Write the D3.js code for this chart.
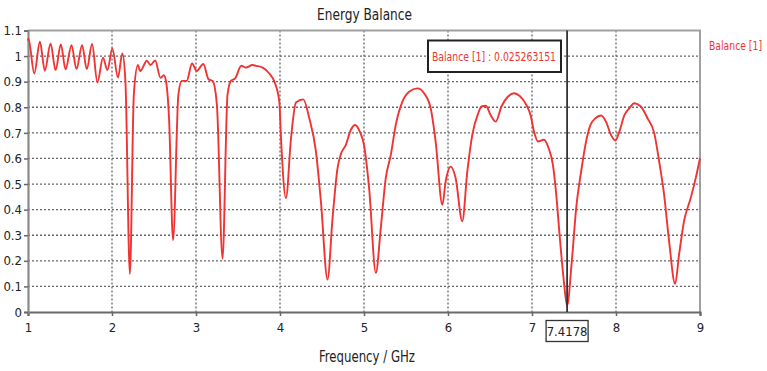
<!DOCTYPE html>
<html>
<head>
<meta charset="utf-8">
<script src="https://cdn.jsdelivr.net/npm/d3@7"></script>
<style>
  body { margin: 0; background: #fff; }
  text { font-family: "DejaVu Sans Condensed", "DejaVu Sans", sans-serif; }
</style>
</head>
<body>
<svg id="chart" width="767" height="371"></svg>
<script>
// frequency (GHz) and energy balance
var freq = [1.0, 1.004, 1.075, 1.142, 1.2, 1.269, 1.328, 1.391, 1.447, 1.518, 1.577, 1.644, 1.70, 1.763, 1.826, 1.893, 1.945, 2.004, 2.071, 2.123,
  2.16, 2.213, 2.26, 2.308, 2.336, 2.415, 2.458, 2.514, 2.577, 2.617, 2.644, 2.68, 2.727, 2.79, 2.83, 2.889, 2.953, 3.008, 3.087, 3.15, 3.198, 3.249, 3.316, 3.375, 3.415, 3.466, 3.54, 3.593, 3.672,
  3.715, 3.794, 3.873, 3.933, 3.992, 4.012, 4.071, 4.131, 4.19, 4.277, 4.349, 4.428, 4.487, 4.566, 4.626, 4.685, 4.725, 4.784, 4.844, 4.895, 4.95, 5.0, 5.061, 5.141,
  5.2, 5.259, 5.319, 5.378, 5.457, 5.537, 5.636, 5.715, 5.794, 5.853, 5.933, 5.972, 6.032, 6.091, 6.17, 6.23, 6.289, 6.36, 6.4, 6.45, 6.51, 6.569, 6.636, 6.715, 6.787, 6.854, 6.933, 6.984, 7.024, 7.071,
  7.142, 7.198, 7.249, 7.289, 7.328, 7.379, 7.4178, 7.474, 7.526, 7.585, 7.644, 7.696, 7.755, 7.822, 7.881, 7.94, 7.992, 8.04, 8.099, 8.158, 8.217, 8.296, 8.375, 8.455, 8.514, 8.573, 8.632, 8.704,
  8.751, 8.81, 8.889, 8.949, 9.0];
var balance = [1.06, 1.069, 0.932, 1.056, 0.943, 1.049, 0.945, 1.045, 0.948, 1.043, 0.949, 1.043, 0.949, 1.047, 0.897, 0.994, 0.945, 1.03, 0.916, 1.01,
  0.9, 0.149, 0.85, 0.965, 0.941, 0.982, 0.965, 0.983, 0.915, 0.925, 0.9, 0.75, 0.281, 0.848, 0.903, 0.903, 0.971, 0.942, 0.969, 0.909, 0.903, 0.809, 0.208, 0.848, 0.903, 0.913, 0.962, 0.955, 0.965,
  0.962, 0.955, 0.932, 0.9, 0.822, 0.679, 0.445, 0.679, 0.819, 0.831, 0.757, 0.627, 0.432, 0.127, 0.368, 0.562, 0.617, 0.653, 0.712, 0.731, 0.705, 0.653, 0.484, 0.153,
  0.329, 0.523, 0.614, 0.731, 0.822, 0.861, 0.874, 0.855, 0.796, 0.666, 0.419, 0.51, 0.568, 0.523, 0.355, 0.549, 0.692, 0.777, 0.803, 0.806, 0.768, 0.744, 0.803, 0.842, 0.855, 0.844, 0.809, 0.768, 0.705, 0.666,
  0.673, 0.64, 0.575, 0.458, 0.303, 0.121, 0.025, 0.199, 0.406, 0.549, 0.666, 0.731, 0.757, 0.768, 0.744, 0.692, 0.67, 0.705, 0.768, 0.796, 0.816, 0.803, 0.757, 0.699, 0.588, 0.458, 0.277, 0.11,
  0.225, 0.355, 0.445, 0.523, 0.601];

var xTicks = [1, 2, 3, 4, 5, 6, 7, 8, 9];
var yTicks = [0, 0.1, 0.2, 0.3, 0.4, 0.5, 0.6, 0.7, 0.8, 0.9, 1, 1.1];
var markerFreq = 7.4178;
var markerLabel = "Balance [1] : 0.025263151";
var seriesName = "Balance [1]";

function drawChart() {
    var svg = d3.select("svg"),
        pLeft = 28, pRight = 700, pTop = 30.5, pBottom = 312;

    var x = d3.scaleLinear().domain([1, 9]).range([pLeft, pRight]);
    var y = d3.scaleLinear().domain([0, 1.1]).range([pBottom, pTop]);

    // grid
    var grid = svg.append("g").attr("stroke", "#666").attr("stroke-width", 1.3).attr("stroke-dasharray", "2,2");
    grid.selectAll(".gx")
        .data(xTicks.slice(1, -1))
        .enter().append("line")
        .attr("x1", d => x(d)).attr("x2", d => x(d))
        .attr("y1", pTop).attr("y2", pBottom);
    grid.selectAll(".gy")
        .data(yTicks.slice(1, -1))
        .enter().append("line")
        .attr("x1", pLeft).attr("x2", pRight)
        .attr("y1", d => y(d)).attr("y2", d => y(d));

    // frame: top and right
    svg.append("path")
        .attr("d", "M" + pLeft + "," + pTop + "H" + pRight + "V" + pBottom)
        .attr("fill", "none").attr("stroke", "#a0a0a0").attr("stroke-width", 2);

    // axes
    var xAxis = svg.append("g")
        .attr("transform", "translate(0," + pBottom + ")")
        .call(d3.axisBottom(x).tickValues(xTicks).tickSize(4).tickPadding(7).tickFormat(d3.format("d")));
    var yAxis = svg.append("g")
        .attr("transform", "translate(" + pLeft + ",0)")
        .call(d3.axisLeft(y).tickValues(yTicks).tickSize(4).tickPadding(2).tickFormat(d => d));

    xAxis.select(".domain").attr("stroke", "#6a6a6a").attr("stroke-width", 2.2);
    yAxis.select(".domain").attr("stroke", "#8a8a8a").attr("stroke-width", 2.2);
    xAxis.selectAll(".tick line").attr("stroke", "#666").attr("stroke-width", 1.5);
    yAxis.selectAll(".tick line").attr("stroke", "#666").attr("stroke-width", 1.5);
    svg.selectAll(".tick text").attr("font-size", 13).attr("fill", "#222")
        .style("font-family", "\"DejaVu Sans Condensed\", sans-serif");

    // curve
    var pts = freq.map((f, i) => [f, balance[i]]);
    var line = d3.line()
        .x(d => x(d[0]))
        .y(d => y(d[1]))
        .curve(d3.curveMonotoneX);
    svg.append("path")
        .datum(pts)
        .attr("d", line)
        .attr("fill", "none")
        .attr("stroke", "#f03333")
        .attr("stroke-width", 1.9);

    // marker line
    svg.append("line")
        .attr("x1", x(markerFreq)).attr("x2", x(markerFreq))
        .attr("y1", pTop).attr("y2", pBottom)
        .attr("stroke", "#333").attr("stroke-width", 1.8);

    // marker value box
    svg.append("rect")
        .attr("x", 428).attr("y", 40.5).attr("width", 133).attr("height", 31.5)
        .attr("fill", "#fff").attr("stroke", "#222").attr("stroke-width", 2);
    svg.append("text")
        .attr("x", 432).attr("y", 61)
        .attr("font-size", 13)
        .attr("textLength", 124).attr("lengthAdjust", "spacingAndGlyphs")
        .attr("fill", "#f03333")
        .text(markerLabel);

    // marker x label
    svg.append("rect")
        .attr("x", x(markerFreq) - 21).attr("y", 320.5).attr("width", 42).attr("height", 21)
        .attr("fill", "#fff").attr("stroke", "#333").attr("stroke-width", 1.3);
    svg.append("text")
        .attr("x", x(markerFreq)).attr("y", 336)
        .attr("text-anchor", "middle")
        .attr("font-size", 13)
        .attr("fill", "#222")
        .text(d3.format(".4f")(markerFreq));

    // legend
    svg.append("text")
        .attr("x", 709).attr("y", 50)
        .attr("font-size", 11.5)
        .attr("textLength", 53).attr("lengthAdjust", "spacingAndGlyphs")
        .attr("fill", "#f03333")
        .text(seriesName);

    // titles
    svg.append("text")
        .attr("x", 317).attr("y", 20)
        .attr("font-size", 15)
        .attr("textLength", 95).attr("lengthAdjust", "spacingAndGlyphs")
        .attr("fill", "#222")
        .text("Energy Balance");
    svg.append("text")
        .attr("x", 319).attr("y", 362)
        .attr("font-size", 15)
        .attr("textLength", 96).attr("lengthAdjust", "spacingAndGlyphs")
        .attr("fill", "#222")
        .text("Frequency / GHz");
}

drawChart();
</script>
</body>
</html>
